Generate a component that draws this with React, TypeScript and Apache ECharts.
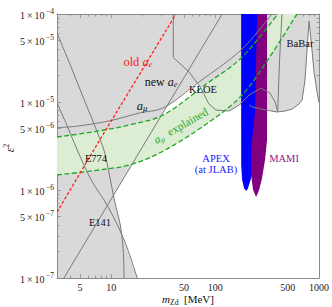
import React, { useEffect, useRef } from 'react';
import * as echarts from 'echarts';

// axis ranges
const X_MIN = 3;
const X_MAX = 1000;
const Y_MIN = 1e-7;
const Y_MAX = 1e-4;

// ticks
const xMajorTicks = [5, 10, 50, 100, 500, 1000];
const xMinorTicks = [3, 4, 6, 7, 8, 9, 20, 30, 40, 60, 70, 80, 90, 200, 300, 400, 600, 700, 800, 900];
const yMajorTicks = [1e-7, 5e-7, 1e-6, 5e-6, 1e-5, 5e-5, 1e-4];
const yMinorTicks = [
  2e-7, 3e-7, 4e-7, 6e-7, 7e-7, 8e-7, 9e-7,
  2e-6, 3e-6, 4e-6, 6e-6, 7e-6, 8e-6, 9e-6,
  2e-5, 3e-5, 4e-5, 6e-5, 7e-5, 8e-5, 9e-5,
];

// curves: [m_Zd (MeV), epsilon^2]
const oldAe = [[3, 5.6e-7], [7.3, 3.3e-6], [42, 1e-4]];
const newAe = [[3.5, 1e-7], [16, 2.0e-6], [117, 1e-4]];
const aMu = [[3, 5.1e-6], [4.9, 5.35e-6], [9.6, 6.1e-6], [18.6, 7.5e-6], [33, 8.8e-6], [70, 1.69e-5], [178, 3.9e-5], [353, 1e-4]];
const aMuUpper = [[3, 4.0e-6], [7.7, 4.7e-6], [16, 5.6e-6], [33, 7.3e-6], [82, 1.6e-5], [178, 3.16e-5], [403, 1e-4]];
const aMuLower = [[3, 1.48e-6], [7.7, 1.69e-6], [16, 1.97e-6], [33, 2.85e-6], [82, 5.6e-6], [178, 1.17e-5], [330, 3.16e-5], [614, 1e-4]];
const e141 = [[3, 6.1e-5], [4.1, 2.5e-5], [5.5, 1.05e-5], [7.3, 4.6e-6], [8.6, 2.7e-6], [9.6, 1.48e-6], [10.7, 7.7e-7], [12.2, 4.0e-7], [13.0, 2.1e-7], [13.3, 1e-7]];
const e774 = [[3, 9.8e-6], [3.8, 5.2e-6], [4.7, 2.85e-6], [6.4, 1.3e-6], [9.2, 6.6e-7], [13.3, 2.7e-7], [17.8, 1e-7]];
const kloe = [[39.5, 1e-4], [39.5, 3.2e-5], [56, 2.2e-5], [73, 1.44e-5], [87, 9.5e-6], [102, 8.1e-6], [136, 7.9e-6], [170, 9.2e-6], [212, 1.2e-5], [277, 1.44e-5], [338, 1.26e-5], [378, 1e-5], [400, 7.8e-6], [417, 3e-5], [440, 1e-4]];
const babar = [[212, 9.25e-6], [227, 8.8e-6], [309, 8.1e-6], [394, 7.7e-6], [471, 7.9e-6], [550, 8.3e-6], [642, 9.5e-6], [687, 1.05e-5], [733, 1.78e-5], [767, 3.9e-5], [802, 8.3e-5], [838, 5.1e-5], [895, 2.2e-5], [957, 1.3e-5], [1000, 9.8e-6]];

// allowed (white) region
const allowed = [
  [17.8, 1e-7], [1000, 1e-7], [1000, 9.8e-6], [957, 1.3e-5], [895, 2.2e-5], [838, 5.1e-5], [802, 8.3e-5],
  [767, 3.9e-5], [733, 1.78e-5], [687, 1.05e-5], [642, 9.5e-6], [550, 8.3e-6], [471, 7.9e-6], [394, 7.7e-6],
  [309, 8.1e-6], [227, 8.8e-6], [212, 9.25e-6], [170, 9.2e-6], [136, 7.9e-6], [102, 8.1e-6], [87, 9.5e-6],
  [73, 1.44e-5], [67, 1.64e-5], [33.7, 8.8e-6], [16, 2.0e-6], [10.45, 8.7e-7], [10.7, 7.7e-7], [12.2, 4.0e-7], [13.0, 2.8e-7],
];

// APEX and MAMI regions
const apex = [[178, 1e-4], [253, 1e-4], [253, 4.8e-6], [237, 2.2e-6], [222, 1.37e-6], [207, 1.05e-6], [199, 9.75e-7], [190, 1.05e-6], [182, 1.3e-6], [178, 1.92e-6]];
const mami = [[253, 1e-4], [316, 1e-4], [316, 3.7e-6], [302, 2.19e-6], [283, 1.37e-6], [265, 1e-6], [248, 8.3e-7], [232, 1e-6], [222, 1.48e-6], [222, 2.85e-6], [243, 8.1e-6]];

const serif = "'Liberation Serif', 'DejaVu Serif', serif";
const frameColor = '#8a8a8a';
const grayLine = '#7a7a7a';
const green = '#1fa81f';

function segs(pts: number[][], smooth: boolean): string {
  const n = pts.length;
  let d = '';
  for (let i = 0; i < n - 1; i++) {
    const p0 = pts[Math.max(i - 1, 0)];
    const p1 = pts[i];
    const p2 = pts[i + 1];
    const p3 = pts[Math.min(i + 2, n - 1)];
    if (smooth) {
      const c1x = p1[0] + (p2[0] - p0[0]) / 6;
      const c1y = p1[1] + (p2[1] - p0[1]) / 6;
      const c2x = p2[0] - (p3[0] - p1[0]) / 6;
      const c2y = p2[1] - (p3[1] - p1[1]) / 6;
      d += `C${c1x},${c1y},${c2x},${c2y},${p2[0]},${p2[1]}`;
    } else {
      d += `L${p2[0]},${p2[1]}`;
    }
  }
  return d;
}

export default function App() {
  const ref = useRef<HTMLDivElement>(null);
  useEffect(() => {
    const chart = echarts.init(ref.current!, null, { renderer: 'svg' });
    const lg = (p: number[]) => [Math.log10(p[0]), Math.log10(p[1])];
    const xr = [Math.log10(X_MIN), Math.log10(X_MAX)];
    const yr = [Math.log10(Y_MIN), Math.log10(Y_MAX)];

    const mkAxis = (dim: 'x' | 'y', position: string, ticks: number[], len: number, labels: boolean, line: boolean) => {
      const base: any = {
        type: 'value',
        position,
        min: dim === 'x' ? xr[0] : yr[0],
        max: dim === 'x' ? xr[1] : yr[1],
        axisLine: { show: line, onZero: false, lineStyle: { color: frameColor, width: 1 } },
        axisTick: { show: true, inside: true, length: len, customValues: ticks.map(Math.log10), lineStyle: { color: frameColor, width: 0.8 } },
        splitLine: { show: false },
        minorTick: { show: false },
        axisLabel: { show: false },
      };
      if (labels && dim === 'x') {
        base.axisLabel = {
          show: true,
          customValues: ticks.map(Math.log10),
          margin: 4,
          color: '#222',
          fontFamily: serif,
          fontSize: 10,
          formatter: (v: number) => String(Math.round(Math.pow(10, v))),
        };
      }
      if (labels && dim === 'y') {
        base.axisLabel = {
          show: true,
          customValues: ticks.map(Math.log10),
          margin: 3,
          color: '#222',
          formatter: (v: number) => {
            const e = Math.floor(v + 1e-6);
            const mant = Math.round(Math.pow(10, v - e));
            return `{b|${mant}\u2009×\u200910}{s|\u2009−${-e}}`;
          },
          rich: {
            b: { fontFamily: serif, fontSize: 10, lineHeight: 13, verticalAlign: 'bottom', color: '#222' },
            s: { fontFamily: serif, fontSize: 7.5, lineHeight: 6, verticalAlign: 'top', color: '#222' },
          },
        };
      }
      return base;
    };

    const pathSeries = (pts: number[][], z: number, style: any, smooth: boolean, close: boolean) => ({
      type: 'custom',
      xAxisIndex: 0,
      yAxisIndex: 0,
      z,
      clip: true,
      silent: true,
      data: [[1, -5]],
      renderItem: (_p: any, api: any) => {
        const px = pts.map((p) => api.coord(lg(p)));
        const d = `M${px[0][0]},${px[0][1]}` + segs(px, smooth) + (close ? 'Z' : '');
        return { type: 'path', shape: { pathData: d }, style };
      },
    });

    const bandSeries = {
      type: 'custom',
      xAxisIndex: 0,
      yAxisIndex: 0,
      z: 2,
      clip: true,
      silent: true,
      data: [[1, -5]],
      renderItem: (_p: any, api: any) => {
        const up = aMuUpper.map((p) => api.coord(lg(p)));
        const lo = aMuLower.map((p) => api.coord(lg(p))).reverse();
        const d = `M${up[0][0]},${up[0][1]}` + segs(up, true) + `L${lo[0][0]},${lo[0][1]}` + segs(lo, true) + 'Z';
        return { type: 'path', shape: { pathData: d }, style: { fill: '#dcedd4', stroke: null } };
      },
    };

    const rich = (size: number) => ({
      n: { fontFamily: serif, fontSize: size, lineHeight: 13, verticalAlign: 'top' },
      t: { fontFamily: serif, fontSize: 10.5, lineHeight: 13, verticalAlign: 'top' },
      i: { fontFamily: serif, fontSize: size, fontStyle: 'italic', lineHeight: 13, verticalAlign: 'top' },
      s: { fontFamily: serif, fontSize: size * 0.7, fontStyle: 'italic', lineHeight: 6, verticalAlign: 'bottom' },
      r: { fontFamily: serif, fontSize: size * 0.7, lineHeight: 6, verticalAlign: 'bottom' },
      p: { fontFamily: serif, fontSize: size * 0.7, lineHeight: 6, verticalAlign: 'top' },
      g: { fontFamily: serif, fontSize: size, fontStyle: 'italic', lineHeight: 13, verticalAlign: 'bottom' },
    });
    const label = (text: string, x: number, y: number, fill: string, size = 10.5, rotation = 0) => ({
      type: 'text',
      x,
      y,
      rotation,
      z: 100,
      silent: true,
      style: {
        text,
        fill,
        fontFamily: serif,
        fontSize: size,
        align: 'center',
        verticalAlign: 'middle',
        rich: rich(size),
      },
    });

    const option: any = {
      animation: false,
      grid: { left: 57, top: 14, width: 264, height: 264, show: true, backgroundColor: '#d9d9d9', borderWidth: 0 },
      xAxis: [
        mkAxis('x', 'bottom', xMajorTicks, 4, true, true),
        mkAxis('x', 'bottom', xMinorTicks, 2.5, false, false),
        mkAxis('x', 'top', xMajorTicks, 4, false, true),
        mkAxis('x', 'top', xMinorTicks, 2.5, false, false),
      ],
      yAxis: [
        mkAxis('y', 'left', yMajorTicks, 4, true, true),
        mkAxis('y', 'left', yMinorTicks, 2.5, false, false),
        mkAxis('y', 'right', yMajorTicks, 4, false, true),
        mkAxis('y', 'right', yMinorTicks, 2.5, false, false),
      ],
      series: [
        pathSeries(allowed, 1, { fill: '#ffffff', stroke: null }, false, true),
        bandSeries,
        pathSeries(apex, 3, { fill: '#0000ff', stroke: null }, false, true),
        pathSeries(mami, 4, { fill: '#800080', stroke: null }, false, true),
        pathSeries(newAe, 5, { fill: null, stroke: grayLine, lineWidth: 1 }, false, false),
        pathSeries(aMu, 5, { fill: null, stroke: grayLine, lineWidth: 1 }, true, false),
        pathSeries(e141, 5, { fill: null, stroke: grayLine, lineWidth: 1 }, true, false),
        pathSeries(e774, 5, { fill: null, stroke: grayLine, lineWidth: 1 }, true, false),
        pathSeries(kloe, 5, { fill: null, stroke: grayLine, lineWidth: 1 }, false, false),
        pathSeries(babar, 5, { fill: null, stroke: grayLine, lineWidth: 1 }, false, false),
        pathSeries(aMuUpper, 6, { fill: null, stroke: green, lineWidth: 1.3, lineDash: [5, 2.5] }, true, false),
        pathSeries(aMuLower, 6, { fill: null, stroke: green, lineWidth: 1.3, lineDash: [5, 2.5] }, true, false),
        pathSeries(oldAe, 7, { fill: null, stroke: '#ff1a1a', lineWidth: 1.3, lineDash: [3, 2] }, false, false),
      ],
      graphic: [
        label('{n|old }{i|a}{s|e}', 138, 62, '#ff1a1a', 12.5),
        label('{n|new }{i|a}{s|e}', 161, 82, '#111', 12),
        label('{i|a}{s|μ}', 142, 106, '#111', 12.5),
        label('KLOE', 203, 89, '#111'),
        label('BaBar', 300, 43, '#111'),
        label('E774', 96, 158, '#111'),
        label('E141', 100, 222, '#111'),
        label('APEX', 216, 158, '#1a1aff'),
        label('(at JLAB)', 216, 169, '#1a1aff'),
        label('MAMI', 284, 158, '#8a1a8a'),
        label('{i|a}{s|μ}{n|  explained}', 181, 126, green, 11.5, 0.52),
        label('{i|m}{r|Zd}{n|  [MeV]}', 188, 300, '#111', 11),
        label('{g|ε}{p|2}', 9, 148, '#111', 11.5, Math.PI / 2),
      ],
    };
    chart.setOption(option);
    return () => chart.dispose();
  }, []);
  return <div ref={ref} style={{ position: 'absolute', left: 0, top: 0, width: 332, height: 307 }} />;
}
